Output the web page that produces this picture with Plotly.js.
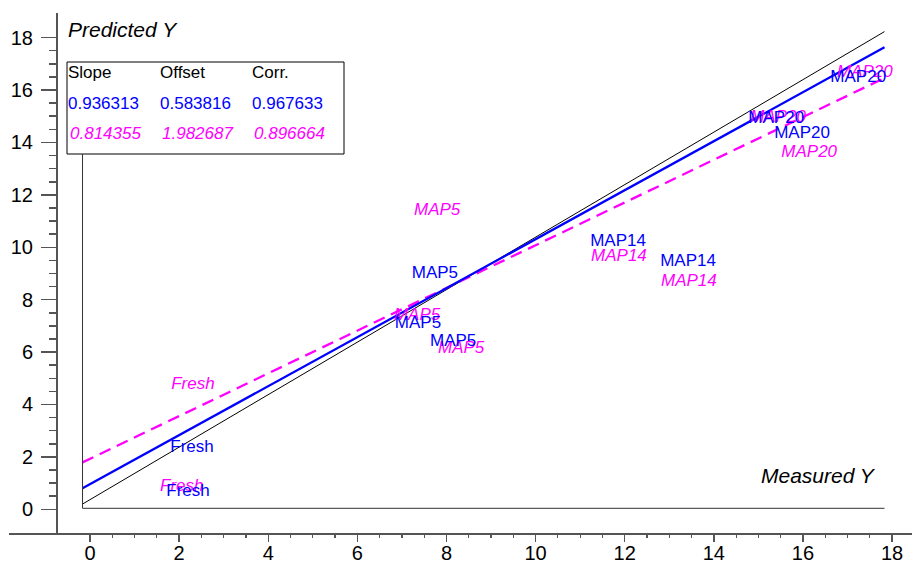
<!DOCTYPE html>
<html><head><meta charset="utf-8">
<script src="https://cdn.plot.ly/plotly-3.0.1.min.js"></script>
<style>html,body{margin:0;padding:0;background:#fff;} #chart{width:912px;height:563px;}</style>
</head><body><div id="chart"></div>
<script>
// Calibration samples (blue, upright)
const calLabels = ["Fresh","Fresh","MAP5","MAP5","MAP5","MAP14","MAP14","MAP20","MAP20","MAP20"];
const calMeasured = [2.20, 2.29, 7.74, 7.36, 8.15, 11.85, 13.42, 15.40, 15.98, 17.24];
const calPredicted = [0.66, 2.34, 8.98, 7.07, 6.38, 10.20, 9.44, 14.89, 14.32, 16.46];
// Validation samples (magenta, italic)
const valLabels = ["Fresh","Fresh","MAP5","MAP5","MAP5","MAP14","MAP14","MAP20","MAP20","MAP20"];
const valMeasured = [2.06, 2.31, 7.79, 7.34, 8.33, 11.87, 13.44, 15.44, 16.14, 17.39];
const valPredicted = [0.85, 4.74, 11.39, 7.38, 6.12, 9.63, 8.68, 14.93, 13.60, 16.65];
// Target and regression lines (end points)
const lineX = [-0.168, 17.83];
const targetY = [0.20, 18.23];
const calFitY = [0.80, 17.63];
const valFitY = [1.79, 16.46];
// Statistics table
const statHeaders = ["Slope", "Offset", "Corr."];
const calStats = ["0.936313", "0.583816", "0.967633"];
const valStats = ["0.814355", "1.982687", "0.896664"];
// Ticks
const xTickVals = [0, 2, 4, 6, 8, 10, 12, 14, 16, 18];
const yTickVals = [0, 2, 4, 6, 8, 10, 12, 14, 16, 18];
const minorVals = [];
for (let v = 0; v <= 18.001; v += 0.5) minorVals.push(v);

const W = 912, H = 563, L = 9, R = 0, T = 13, B = 30;
const pw = W - L - R, ph = H - T - B;
const fx = p => (p - L) / pw;
const fy = p => (H - B - p) / ph;

const FONT = "Liberation Sans, Arial, sans-serif";
const BLUE = "#0000ff", MAG = "#ff00ff";

const traces = [
  {x: lineX, y: targetY, mode: "lines", line: {color: "#000", width: 1}, hoverinfo: "skip"},
  {x: lineX, y: valFitY, mode: "lines", line: {color: MAG, width: 2.3, dash: "12px,7px"}, hoverinfo: "skip"},
  {x: lineX, y: calFitY, mode: "lines", line: {color: BLUE, width: 2.3}, hoverinfo: "skip"},
  {x: valMeasured, y: valPredicted, text: valLabels, mode: "text", textposition: "middle center",
   textfont: {family: FONT, size: 17, color: MAG, style: "italic"}, hoverinfo: "skip"},
  {x: calMeasured, y: calPredicted, text: calLabels, mode: "text", textposition: "middle center",
   textfont: {family: FONT, size: 17, color: BLUE}, hoverinfo: "skip"}
];

const annotations = [];
const colX = [68, 160, 252];
const rowY = [72, 103, 134];
statHeaders.forEach((t, i) => annotations.push({text: t, x: fx(colX[i] - 2), y: fy(rowY[0]), xref: "paper", yref: "paper", xanchor: "left", yanchor: "middle", showarrow: false, font: {family: FONT, size: 17, color: "#000"}}));
calStats.forEach((t, i) => annotations.push({text: t, x: fx(colX[i] - 2), y: fy(rowY[1]), xref: "paper", yref: "paper", xanchor: "left", yanchor: "middle", showarrow: false, font: {family: FONT, size: 17, color: BLUE}}));
valStats.forEach((t, i) => annotations.push({text: t, x: fx(colX[i]), y: fy(rowY[2]), xref: "paper", yref: "paper", xanchor: "left", yanchor: "middle", showarrow: false, font: {family: FONT, size: 17, color: MAG, style: "italic"}}));
annotations.push({text: "Predicted Y", x: fx(66), y: fy(29), xref: "paper", yref: "paper", xanchor: "left", yanchor: "middle", showarrow: false, font: {family: FONT, size: 21, color: "#000", style: "italic"}});
annotations.push({text: "Measured Y", x: fx(878), y: fy(475), xref: "paper", yref: "paper", xanchor: "right", yanchor: "middle", showarrow: false, font: {family: FONT, size: 21, color: "#000", style: "italic"}});

const shapes = [
  {type: "rect", xref: "paper", yref: "paper", x0: fx(67), x1: fx(344), y0: fy(154), y1: fy(62), line: {color: "#000", width: 1}, fillcolor: "rgba(0,0,0,0)"},
  {type: "line", xref: "x", yref: "paper", x0: lineX[0], x1: lineX[0], y0: fy(508.3), y1: fy(154), line: {color: "#333", width: 1}},
  {type: "line", xref: "x", yref: "paper", x0: lineX[0], x1: lineX[1], y0: fy(508.3), y1: fy(508.3), line: {color: "#333", width: 1}}
];

const axisCommon = {
  showgrid: false, zeroline: false, showline: true, linecolor: "#555", linewidth: 1.5,
  ticks: "outside", tickcolor: "#555", tickwidth: 1.5, tickmode: "array",
  tickfont: {family: FONT, size: 20, color: "#000"}, fixedrange: true
};

const layout = {
  width: W, height: H, margin: {l: L, r: R, t: T, b: B, pad: 0},
  paper_bgcolor: "#fff", plot_bgcolor: "#fff", showlegend: false,
  xaxis: Object.assign({}, axisCommon, {range: [-1.818, 18.447], tickvals: xTickVals, ticklen: 7,
    ticklabelstandoff: -6,
    minor: {tickmode: "array", tickvals: minorVals, ticks: "outside", ticklen: 3, tickcolor: "#555", tickwidth: 1.2},
    automargin: false, domain: [0, 1]}),
  yaxis: Object.assign({}, axisCommon, {range: [-0.905, 18.94], tickvals: yTickVals, ticklen: 15,
    anchor: "free", position: fx(56), ticklabelstandoff: 4,
    minor: {tickmode: "array", tickvals: minorVals, ticks: "outside", ticklen: 7, tickcolor: "#555", tickwidth: 1.5},
    automargin: false, domain: [0, 1]}),
  annotations: annotations, shapes: shapes
};

Plotly.newPlot("chart", traces, layout, {displayModeBar: false, staticPlot: true});
</script></body></html>
